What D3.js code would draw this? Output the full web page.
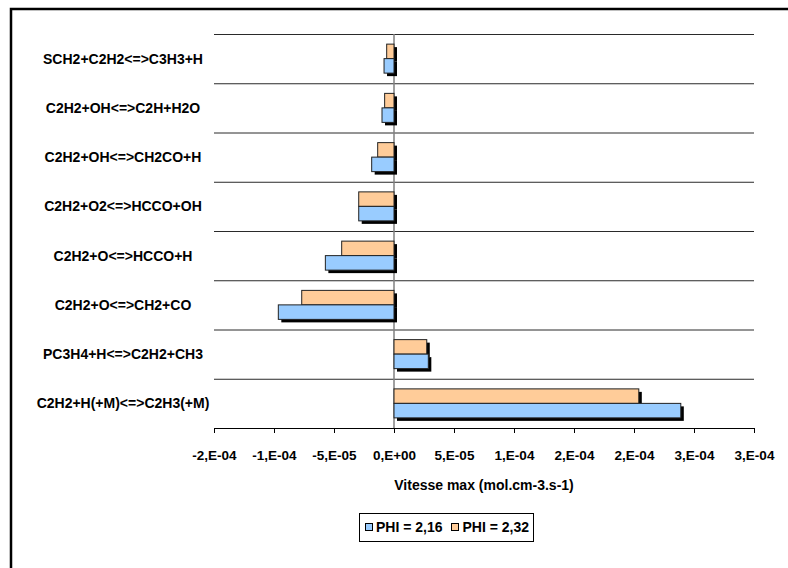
<!DOCTYPE html>
<html>
<head>
<meta charset="utf-8">
<script src="https://cdn.jsdelivr.net/npm/d3@7"></script>
<style>
  html, body { margin: 0; padding: 0; background: #fff; }
  svg { display: block; }
  text { font-family: "Liberation Sans", Arial, sans-serif; font-weight: bold; fill: #000; }
</style>
</head>
<body>
<svg id="chart" width="788" height="568"></svg>
<script>
// ---- data ----
const categories = [
  "SCH2+C2H2<=>C3H3+H",
  "C2H2+OH<=>C2H+H2O",
  "C2H2+OH<=>CH2CO+H",
  "C2H2+O2<=>HCCO+OH",
  "C2H2+O<=>HCCO+H",
  "C2H2+O<=>CH2+CO",
  "PC3H4+H<=>C2H2+CH3",
  "C2H2+H(+M)<=>C2H3(+M)"
];
const seriesNames = ["PHI = 2,16", "PHI = 2,32"];
const phi216 = [-8.3e-6, -1.0e-5, -1.86e-5, -2.94e-5, -5.72e-5, -9.64e-5, 2.86e-5, 2.39e-4];
const phi232 = [-6.1e-6, -7.8e-6, -1.36e-5, -2.94e-5, -4.36e-5, -7.69e-5, 2.73e-5, 2.04e-4];
const tickValues = [-1.5e-4, -1e-4, -5e-5, 0, 5e-5, 1e-4, 1.5e-4, 2e-4, 2.5e-4, 3e-4];
const tickLabels = ["-2,E-04", "-1,E-04", "-5,E-05", "0,E+00", "5,E-05", "1,E-04", "2,E-04", "2,E-04", "3,E-04", "3,E-04"];
const axisTitle = "Vitesse max (mol.cm-3.s-1)";
const colors = ["#99CCFF", "#FFCC99"];

// ---- layout ----
const svg = d3.select("#chart");
const plot = { left: 214, right: 754, top: 34, bottom: 428 };

svg.append("rect")
  .attr("x", 11).attr("y", 9).attr("width", 800).attr("height", 600)
  .attr("fill", "#fff").attr("stroke", "#000").attr("stroke-width", 2.5);

const x = d3.scaleLinear().domain([-1.5e-4, 3e-4]).range([plot.left, plot.right]);
const y = d3.scaleBand().domain(categories).range([plot.top, plot.bottom]).paddingInner(0).paddingOuter(0);

// horizontal gridlines at band boundaries
const bounds = categories.map(c => y(c));
svg.append("g").selectAll("line").data(bounds).join("line")
  .attr("x1", plot.left).attr("x2", plot.right)
  .attr("y1", d => d + 0.5).attr("y2", d => d + 0.5)
  .attr("stroke", "#2a2a2a").attr("stroke-width", 1);

// zero line
svg.append("line")
  .attr("x1", x(0)).attr("x2", x(0))
  .attr("y1", plot.top).attr("y2", plot.bottom)
  .attr("stroke", "#808080").attr("stroke-width", 1.5);

// bars
const bw = y.bandwidth();
const barH = 14.5;
const top0 = (bw - 2 * barH) / 2;
const series = [
  { name: seriesNames[1], values: phi232, color: colors[1], off: top0 },
  { name: seriesNames[0], values: phi216, color: colors[0], off: top0 + barH }
];
const rows = [];
series.forEach(s => s.values.forEach((v, i) => rows.push({ cat: categories[i], v, s })));

const gBars = svg.append("g");
// shadows
gBars.selectAll("rect.shadow").data(rows).join("rect").attr("class", "shadow")
  .attr("x", d => Math.min(x(0), x(d.v)) + 3)
  .attr("y", d => y(d.cat) + d.s.off + 3)
  .attr("width", d => Math.abs(x(d.v) - x(0)))
  .attr("height", barH)
  .attr("fill", "#000");
// bars
gBars.selectAll("rect.bar").data(rows).join("rect").attr("class", "bar")
  .attr("x", d => Math.min(x(0), x(d.v)))
  .attr("y", d => y(d.cat) + d.s.off)
  .attr("width", d => Math.abs(x(d.v) - x(0)))
  .attr("height", barH)
  .attr("fill", d => d.s.color)
  .attr("stroke", "#222").attr("stroke-width", 1);

// x axis
const xAxis = d3.axisBottom(x).tickValues(tickValues)
  .tickFormat((d, i) => tickLabels[i]).tickSizeInner(5).tickSizeOuter(0).tickPadding(17);
const gx = svg.append("g").attr("transform", `translate(0,${plot.bottom})`).call(xAxis);
gx.select(".domain").attr("stroke", "#000").attr("stroke-width", 1.2);
gx.selectAll(".tick line").attr("stroke", "#000");
gx.selectAll(".tick text").style("font-size", "13.5px").style("font-family", '"Liberation Sans", Arial, sans-serif').style("font-weight", "bold");

// category labels
svg.append("g").selectAll("text").data(categories).join("text")
  .attr("x", 123).attr("y", d => y(d) + bw / 2 + 5)
  .attr("text-anchor", "middle")
  .style("font-size", "14px")
  .text(d => d);

// axis title
svg.append("text").attr("x", 484).attr("y", 490)
  .attr("text-anchor", "middle").style("font-size", "14px").text(axisTitle);

// legend
const lg = svg.append("g");
lg.append("rect").attr("x", 359.5).attr("y", 513.5).attr("width", 174).attr("height", 28)
  .attr("fill", "#fff").attr("stroke", "#000").attr("stroke-width", 1);
const legendItems = [
  { name: seriesNames[0], color: colors[0], sx: 365.5, tx: 376 },
  { name: seriesNames[1], color: colors[1], sx: 451.5, tx: 462.5 }
];
legendItems.forEach(it => {
  lg.append("rect").attr("x", it.sx).attr("y", 523.5).attr("width", 7).attr("height", 7)
    .attr("fill", it.color).attr("stroke", "#000").attr("stroke-width", 1);
  lg.append("text").attr("x", it.tx).attr("y", 532).style("font-size", "14px").text(it.name);
});
</script>
</body>
</html>
